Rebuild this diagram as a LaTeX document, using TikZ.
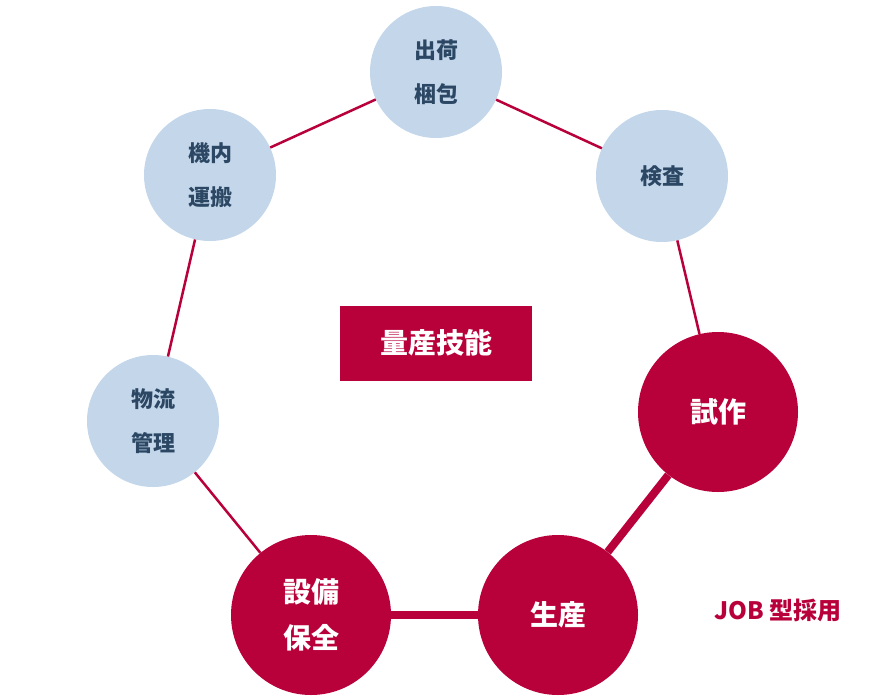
\documentclass[tikz,border=0pt]{standalone}
\usepackage{fontspec}
\newfontfamily\cjk{Noto Sans CJK JP}
\usetikzlibrary{positioning}
\definecolor{skillblue}{HTML}{C3D6EA}
\definecolor{skillred}{HTML}{B8003A}
\definecolor{skilltext}{HTML}{2B4763}

\begin{document}
\begin{tikzpicture}[
        x=1pt, y=-1pt,
        soft/.style={circle, fill=skillblue, text=skilltext, minimum size=132pt, inner sep=0pt,
            align=center, font=\cjk\bfseries\fontsize{22}{44}\selectfont},
        hard/.style={circle, fill=skillred, text=white, minimum size=160pt, inner sep=0pt,
            align=center, font=\cjk\bfseries\fontsize{28}{46}\selectfont},
        thin link/.style={skillred, line width=2.5pt},
        thick link/.style={skillred, line width=8pt},
    ]
        \useasboundingbox (0,0) rectangle (880,696);

        \node[soft] (pack) at (436,72) {出荷\\梱包};
        \node[soft] (check) at (662,176) {検査};
        \node[hard] (proto) at (718,412) {試作};
        \node[hard] (prod) at (558,615) {生産};
        \node[hard] (maint) at (311,615) {設備\\保全};
        \node[soft] (logi) at (153,421) {物流\\管理};
        \node[soft] (carry) at (210,175) {機内\\運搬};

        \node[fill=skillred, text=white, minimum width=192pt, minimum height=75pt,
            font=\cjk\bfseries\fontsize{28}{30}\selectfont] (core) at (436,343) {量産技能};
        \node[text=skillred, font=\cjk\bfseries\fontsize{24}{26}\selectfont] (job) at (778,610) {JOB 型採用};

        % connectors between the circle borders
        \draw[thin link] (pack) -- (check);
        \draw[thin link] (check) -- (proto);
        \draw[thick link] (proto) -- (prod);
        \draw[thick link] (prod) -- (maint);
        \draw[thin link] (maint) -- (logi);
        \draw[thin link] (logi) -- (carry);
        \draw[thin link] (carry) -- (pack);
    \end{tikzpicture}
\end{document}
